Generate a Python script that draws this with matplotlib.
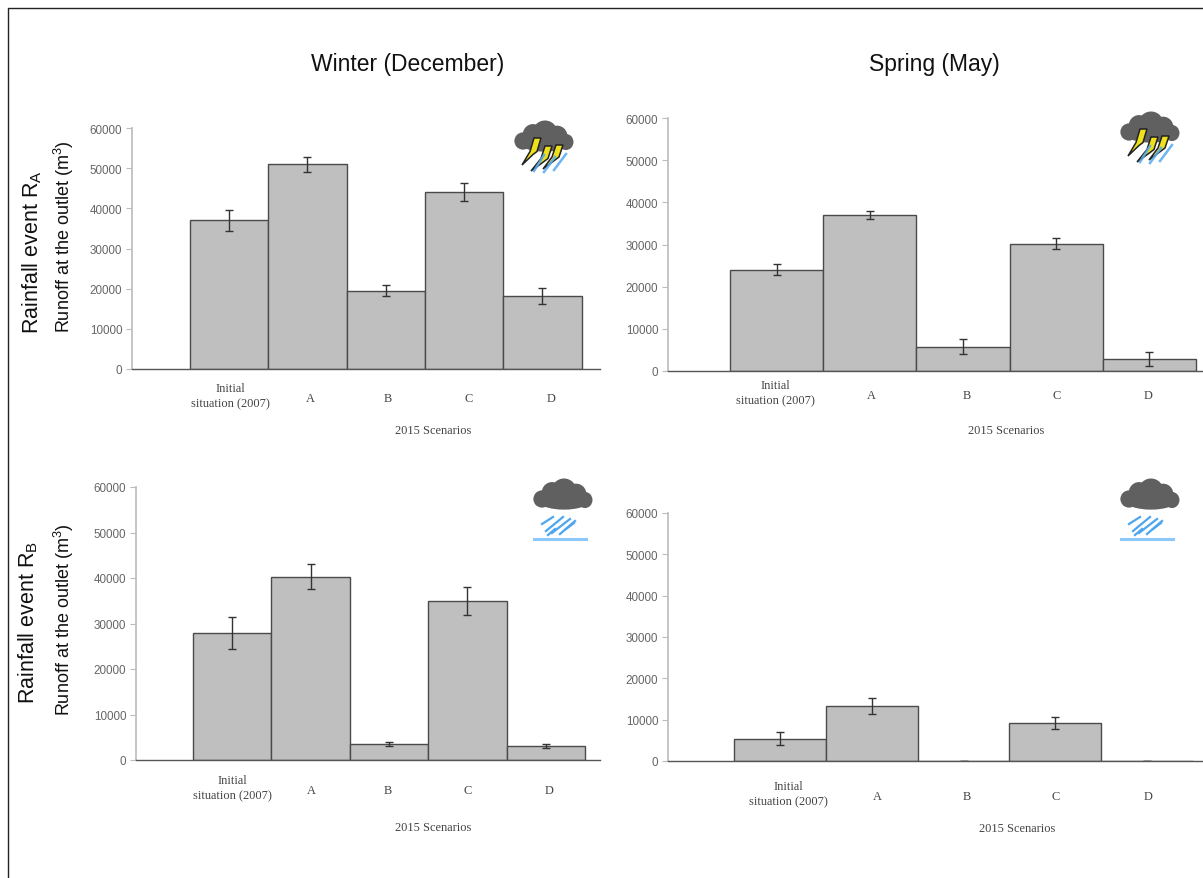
import matplotlib
matplotlib.use("Agg")
import matplotlib.pyplot as plt
from matplotlib.lines import Line2D
from matplotlib.patches import Ellipse, Polygon

W, H = 1203, 879

scenarios = ["Initial\nsituation (2007)", "A", "B", "C", "D"]
y_ticks = [0, 10000, 20000, 30000, 40000, 50000, 60000]

winter_ra = [37000, 51000, 19500, 44000, 18200]
winter_ra_err = [2700, 1900, 1450, 2200, 1900]
spring_ra = [24000, 37000, 5800, 30200, 2900]
spring_ra_err = [1300, 1000, 1800, 1300, 1600]
winter_rb = [28000, 40300, 3500, 35000, 3100]
winter_rb_err = [3500, 2800, 500, 3100, 400]
spring_rb = [5400, 13300, 100, 9200, 100]
spring_rb_err = [1600, 1900, 0, 1500, 0]

plt.rcParams["font.family"] = "Liberation Sans"
plt.rcParams["mathtext.fontset"] = "custom"
plt.rcParams["mathtext.rm"] = "Liberation Sans"
plt.rcParams["mathtext.default"] = "regular"


def make_axes(fig, left, right, top, bottom):
    return fig.add_axes([left / W, 1 - bottom / H, (right - left) / W, (bottom - top) / H])


def draw_panel(fig, values, errs, left, right, top, bottom, bar0, bar_w, label_xs, label_y, xlabel_pos):
    ax = make_axes(fig, left, right, top, bottom)
    ax.patch.set_alpha(0)
    ax.bar(range(5), values, width=1, color="#bfbfbf", edgecolor="#4a4a4a", linewidth=1.0)
    ax.errorbar(range(5), values, yerr=errs, fmt="none", ecolor="#333333",
                elinewidth=1.0, capsize=2.6, capthick=1.0)
    # bar0 is the left edge of the first bar in pixels
    ax.set_xlim(-0.5 - (bar0 - left) / bar_w, -0.5 + (right - bar0) / bar_w)
    ax.set_ylim(0, 60000)
    ax.set_yticks(y_ticks)
    ax.tick_params(axis="y", labelsize=8.4, labelcolor="#666666", color="#bbbbbb", length=4, pad=3)
    ax.set_xticks([])
    for side in ["top", "right"]:
        ax.spines[side].set_visible(False)
    ax.spines["left"].set_color("#c0c0c0")
    ax.spines["left"].set_linewidth(1.3)
    ax.spines["bottom"].set_color("#555555")
    ax.spines["bottom"].set_linewidth(1.0)

    for name, x in zip(scenarios, label_xs):
        y = label_y if "\n" not in name else label_y - 2
        fig.text(x / W, 1 - y / H, name, ha="center", va="center", fontsize=8.9,
                 family="Liberation Serif", color="#444444", linespacing=1.35)
    fig.text(xlabel_pos[0] / W, 1 - xlabel_pos[1] / H, "2015 Scenarios", ha="center", va="center",
             fontsize=8.9, family="Liberation Serif", color="#444444")
    return ax


def draw_cloud(ov, dx, dy):
    blobs = [(523, 142, 15, 15), (533, 136, 18, 19), (545, 133, 21, 20), (557, 137, 18, 18),
             (566, 143, 13, 14), (545, 144, 44, 15)]
    for x, y, w, h in blobs:
        ov.add_patch(Ellipse((x + dx, y + dy), w * 1.15, h * 1.15, color="#606060", lw=0))


def draw_storm(ov, dx, dy):
    draw_cloud(ov, dx, dy)
    for x0, y0, x1, y1 in [(541, 156, 531, 172), (552, 158, 541, 173), (563, 155, 551, 171)]:
        ov.add_line(Line2D([x0 + 3 + dx, x1 + 3 + dx], [y0 + dy, y1 + dy], color="#55aaf0", lw=1.8, alpha=0.85))
    bolts = [(538, 139, 522, 166), (549, 147, 531, 172), (560, 146, 543, 170)]
    for x0, y0, x1, y1 in bolts:
        mid = (y0 + y1) / 2
        pts = [(x0 + 3, y0), (x0 - 4, y0), (x0 - 8, mid), (x1, y1), (x0 - 5, mid + 3), (x0 - 1, mid)]
        ov.add_patch(Polygon([(a + dx, b + dy) for a, b in pts], facecolor="#efe01c", edgecolor="#222222", lw=1.1))


def draw_rain(ov, dx, dy):
    draw_cloud(ov, dx + 19, dy + 358)
    for x0, y0, x1, y1 in [(542, 525, 553, 518), (546, 532, 563, 518), (552, 534, 570, 520),
                           (560, 535, 575, 522), (566, 530, 574, 524), (548, 536, 555, 530)]:
        ov.add_line(Line2D([x0 + dx, x1 + dx], [y0 + dy, y1 + dy], color="#4da6ee", lw=1.6))
    ov.add_line(Line2D([534 + dx, 586 + dx], [540 + dy, 540 + dy], color="#8cc8fa", lw=2.2))


fig = plt.figure(figsize=(W / 100, H / 100), dpi=100, facecolor="white")

draw_panel(fig, winter_ra, winter_ra_err, 132, 600, 129, 370, 190, 78.3, [230, 310, 388, 469, 551], 399, (433, 431))
draw_panel(fig, spring_ra, spring_ra_err, 668, 1203, 119, 372, 730, 93.2, [775, 871, 967, 1057, 1148], 396, (1006, 431))
draw_panel(fig, winter_rb, winter_rb_err, 136, 600, 488, 761, 193, 78.4, [232, 311, 388, 468, 549], 791, (433, 828))
draw_panel(fig, spring_rb, spring_rb_err, 668, 1203, 514, 762, 734, 91.8, [788, 877, 967, 1056, 1148], 797, (1017, 829))

# full figure overlay in pixel coordinates for border and weather icons
ov = fig.add_axes([0, 0, 1, 1], zorder=5)
ov.set_xlim(0, W)
ov.set_ylim(H, 0)
ov.axis("off")
ov.add_line(Line2D([8, 8, W], [H, 9, 9], color="#222222", lw=1.0))
draw_storm(ov, 0, 0)
draw_storm(ov, 606, -9)
draw_rain(ov, 0, 0)
draw_rain(ov, 587, 0)

fig.text(408 / W, 1 - 64 / H, "Winter (December)", ha="center", va="center", fontsize=16.5, color="#111111")
fig.text(934 / W, 1 - 64 / H, "Spring (May)", ha="center", va="center", fontsize=16.5, color="#111111")

fig.text(32 / W, 1 - 252 / H, "Rainfall event R$_{A}$", rotation=90, ha="center", va="center", fontsize=15.5, color="#111111")
fig.text(64 / W, 1 - 237 / H, "Runoff at the outlet (m$^{3}$)", rotation=90, ha="center", va="center", fontsize=13, color="#111111")
fig.text(28 / W, 1 - 622 / H, "Rainfall event R$_{B}$", rotation=90, ha="center", va="center", fontsize=15.5, color="#111111")
fig.text(64 / W, 1 - 620 / H, "Runoff at the outlet (m$^{3}$)", rotation=90, ha="center", va="center", fontsize=13, color="#111111")

fig.savefig("out.png", dpi=100)
